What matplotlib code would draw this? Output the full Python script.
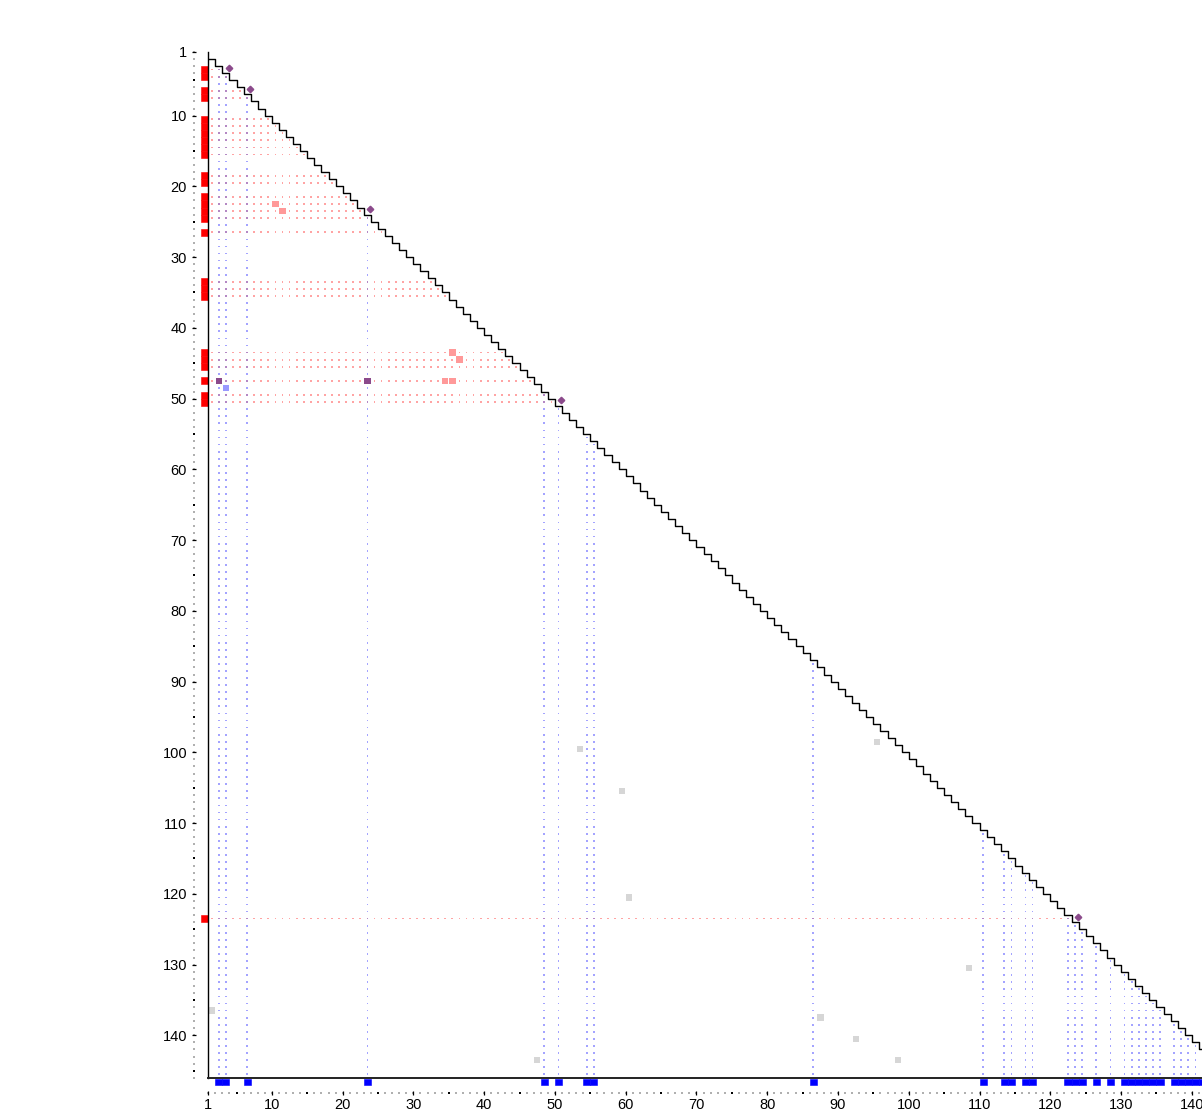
import matplotlib
matplotlib.use("Agg")
import matplotlib.pyplot as plt
import numpy as np

plt.rcParams['font.family'] = ['Liberation Sans', 'DejaVu Sans']

# sequence length
N = 145

# rows marked on the left margin (red) and columns on the bottom margin (blue)
red_rows = [3, 4, 6, 7, 10, 11, 12, 13, 14, 15, 18, 19, 21, 22, 23, 24, 26,
            33, 34, 35, 43, 44, 45, 47, 49, 50, 123]
blue_cols = [2, 3, 6, 23, 48, 50, 54, 55, 86, 110, 113, 114, 116, 117, 122, 123,
             124, 126, 128, 130, 131, 132, 133, 134, 135, 137, 138, 139, 140,
             141, 142, 143, 144, 145]

# contacts below the diagonal (column, row)
contact_cols = [10, 11, 35, 36, 34, 35, 2, 23, 3, 53, 95, 59, 60, 108, 1, 87, 92, 47, 98]
contact_rows = [22, 23, 43, 44, 47, 47, 47, 47, 48, 99, 98, 105, 120, 130, 136, 137, 140, 143, 143]

major_ticks = [1, 10, 20, 30, 40, 50, 60, 70, 80, 90, 100, 110, 120, 130, 140]
minor_ticks = [5, 15, 25, 35, 45, 55, 65, 75, 85, 95, 105, 115, 125, 135, 145]

RED = '#ff0000'
BLUE = '#0000ff'
PURPLE = '#8b4a8b'


def cell_color(col, row, light):
    r = row in red_rows
    b = col in blue_cols
    if light:
        if r and b:
            return '#b488c4'
        if r:
            return '#ffa4a4'
        if b:
            return '#a4a4ff'
        return None
    if r and b:
        return PURPLE
    if r:
        return '#ff9999'
    if b:
        return '#9999ff'
    return '#d6d6d6'


fig = plt.figure(figsize=(12.02, 11.10), dpi=100)
ax = fig.add_axes([208.2 / 1202, (1110 - 1077.8) / 1110,
                   (1234.3 - 208.2) / 1202, (1077.8 - 51.9) / 1110])
ax.set_xlim(1, N + 1)
ax.set_ylim(N + 1, 1)

# dotted guide lines: one dot per cell for marked rows / columns
contact_set = set(zip(contact_cols, contact_rows))
dots = {}
for r in red_rows:
    for c in range(1, r):
        dots[(c, r)] = 1
for c in blue_cols:
    for r in range(c + 1, N + 1):
        dots[(c, r)] = 1
dx, dy, dc = [], [], []
for (c, r) in dots:
    if (c, r) in contact_set:
        continue
    dx.append(c + 0.5)
    dy.append(r + 0.5)
    dc.append(cell_color(c, r, True))
ax.scatter(dx, dy, s=1.6, marker='s', c=dc, linewidths=0, zorder=1)

# contact squares
cc = np.array(contact_cols)
cr = np.array(contact_rows)
colors = [cell_color(c, r, False) for c, r in zip(contact_cols, contact_rows)]
ax.bar(cc + 0.05, 0.9, width=0.9, bottom=cr + 0.05, align='edge',
       color=colors, linewidth=0, zorder=2)

# diagonal staircase
u = np.arange(1, N + 2)
ax.step(u, u + 1, where='post', color='black', lw=1.0, zorder=3)

# diamonds where a marked row meets a marked column on the diagonal
both = np.array(sorted(set(red_rows) & set(blue_cols)))
ax.plot(both + 0.9, both + 0.26, 'D', ms=3.3, color=PURPLE, ls='none', zorder=4)

# margin bars
ax.barh(red_rows, 0.9, left=0.05, height=1.0, align='edge', color=RED,
        edgecolor=RED, linewidth=0.4, clip_on=False, zorder=3)
ax.bar(blue_cols, 0.85, bottom=N + 1.15, width=1.0, align='edge', color=BLUE,
       edgecolor=BLUE, linewidth=0.4, clip_on=False, zorder=3)

# frame lines
ax.plot([1, 1], [1, N + 1], color='black', lw=1.0, clip_on=False, zorder=5)
ax.plot([1, N + 1], [N + 1, N + 1], color='#222222', lw=1.4, clip_on=False, zorder=5)

# offset tick lines with grey dots at every position
for s in ['top', 'right']:
    ax.spines[s].set_visible(False)
ax.spines['left'].set_position(('data', -1.0))
ax.spines['bottom'].set_position(('data', N + 3.2))
ax.spines['left'].set_color('none')
ax.spines['bottom'].set_color('none')
k = np.arange(1, N + 2)
ax.scatter(np.full(len(k), -1.0), k, s=1.4, marker='s', c='#b0b0b0',
           linewidths=0, clip_on=False, zorder=1)
ax.scatter(k, np.full(len(k), N + 3.2), s=1.4, marker='s', c='#b0b0b0',
           linewidths=0, clip_on=False, zorder=1)

ax.set_xticks(major_ticks)
ax.set_yticks(major_ticks)
ax.set_xticks(minor_ticks, minor=True)
ax.set_yticks(minor_ticks, minor=True)
ax.tick_params(which='major', direction='inout', length=3, width=0.9,
               pad=3.5, labelsize=10.5, colors='black')
ax.tick_params(which='minor', direction='inout', length=1.4, width=1.4,
               colors='black')
ax.tick_params(axis='x', which='major', pad=1.5)

fig.savefig('out.png', dpi=100)
